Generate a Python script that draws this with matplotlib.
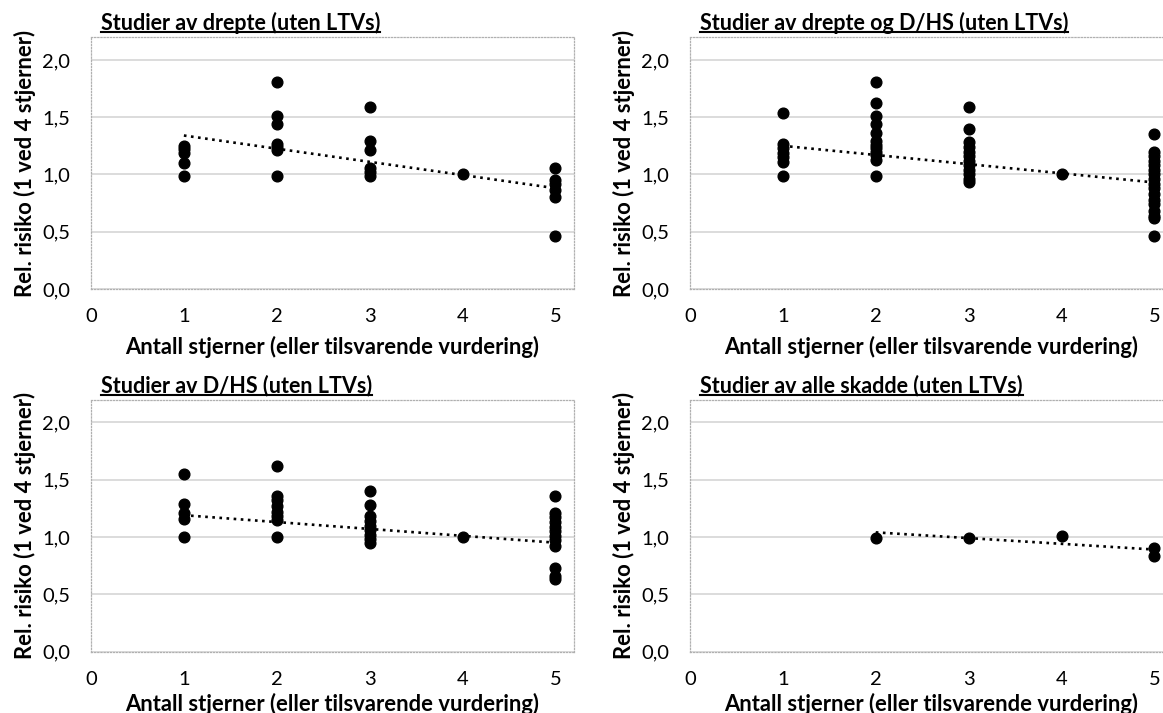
import matplotlib
matplotlib.use("Agg")
import matplotlib.pyplot as plt
from matplotlib.lines import Line2D
from matplotlib.ticker import FuncFormatter

plt.rcParams.update({
    "font.family": ["Lato", "DejaVu Sans"],
    "font.size": 14,
})

W, H = 1163, 713

# ---- data ----
titles = [
    "Studier av drepte (uten LTVs)",
    "Studier av drepte og D/HS (uten LTVs)",
    "Studier av D/HS (uten LTVs)",
    "Studier av alle skadde (uten LTVs)",
]

drepte_x = [1, 1, 1, 1, 1,
            2, 2, 2, 2, 2, 2, 2,
            3, 3, 3, 3, 3, 3,
            4,
            5, 5, 5, 5, 5, 5]
drepte_y = [1.25, 1.22, 1.19, 1.10, 0.99,
            1.81, 1.51, 1.44, 1.27, 1.24, 1.21, 0.99,
            1.59, 1.29, 1.21, 1.06, 1.02, 0.99,
            1.00,
            1.06, 0.95, 0.92, 0.86, 0.80, 0.46]

drepte_dhs_x = [1, 1, 1, 1, 1, 1, 1,
                2, 2, 2, 2, 2, 2, 2, 2, 2, 2, 2, 2,
                3, 3, 3, 3, 3, 3, 3, 3, 3, 3, 3, 3,
                4,
                5, 5, 5, 5, 5, 5, 5, 5, 5, 5, 5, 5, 5, 5, 5, 5, 5]
drepte_dhs_y = [1.54, 1.27, 1.23, 1.19, 1.15, 1.11, 0.99,
                1.81, 1.62, 1.51, 1.44, 1.36, 1.29, 1.26, 1.23, 1.20, 1.17, 1.13, 0.99,
                1.59, 1.40, 1.28, 1.24, 1.20, 1.16, 1.12, 1.08, 1.04, 1.00, 0.96, 0.93,
                1.00,
                1.35, 1.20, 1.16, 1.12, 1.08, 1.04, 1.00, 0.96, 0.92, 0.88, 0.83, 0.78,
                0.74, 0.68, 0.64, 0.62, 0.46]

dhs_x = [1, 1, 1, 1, 1,
         2, 2, 2, 2, 2, 2, 2, 2,
         3, 3, 3, 3, 3, 3, 3, 3, 3,
         4,
         5, 5, 5, 5, 5, 5, 5, 5, 5, 5, 5, 5]
dhs_y = [1.55, 1.29, 1.21, 1.16, 1.00,
         1.62, 1.36, 1.32, 1.27, 1.22, 1.18, 1.15, 1.00,
         1.40, 1.28, 1.18, 1.14, 1.10, 1.06, 1.02, 0.98, 0.95,
         1.00,
         1.36, 1.21, 1.17, 1.13, 1.09, 1.05, 1.01, 0.97, 0.92, 0.73, 0.66, 0.63]

skadde_x = [2, 3, 4, 5, 5]
skadde_y = [0.99, 0.99, 1.01, 0.90, 0.83]

# linear trend lines (start/end as drawn)
trend_x = [[1, 5], [1, 5], [1, 5], [2, 5]]
trend_y = [[1.34, 0.88], [1.25, 0.93], [1.19, 0.95], [1.04, 0.89]]

xs = [drepte_x, drepte_dhs_x, dhs_x, skadde_x]
ys = [drepte_y, drepte_dhs_y, dhs_y, skadde_y]

x_ticks = [0, 1, 2, 3, 4, 5]
y_ticks = [0.0, 0.5, 1.0, 1.5, 2.0]

# panel boxes in pixels: left, top, width, height, xlabel offset
boxes = [(91, 37, 483, 252, 58), (690, 37, 483, 252, 58),
         (91, 399.5, 483, 252, 52), (690, 399.5, 483, 252, 52)]

fig = plt.figure(figsize=(W / 100, H / 100), dpi=100)
fig.patch.set_facecolor("white")

title_texts = []
for i, (l, t, w, h, xo) in enumerate(boxes):
    ax = fig.add_axes([l / W, 1 - (t + h) / H, w / W, h / H])
    ax.set_xlim(0, 5.2)
    ax.set_ylim(0, 2.2)
    ax.set_xticks(x_ticks)
    ax.set_yticks(y_ticks)
    ax.yaxis.set_major_formatter(FuncFormatter(lambda v, p: f"{v:.1f}".replace(".", ",")))
    ax.tick_params(length=0, labelsize=14.5, colors="black")
    ax.tick_params(axis="y", pad=15)
    ax.tick_params(axis="x", pad=14)
    ax.grid(axis="y", color="#d9d9d9", linewidth=1.3)
    ax.set_axisbelow(True)
    for s in ax.spines.values():
        s.set_linestyle((0, (1, 1.5)))
        s.set_color("#b0b0b0")
        s.set_linewidth(0.9)

    ax.plot(trend_x[i], trend_y[i], color="black", linestyle=(0, (1, 1.7)),
            linewidth=1.9, zorder=2)
    ax.plot(xs[i], ys[i], "o", color="black", markersize=7.7, zorder=3)

    ax.set_xlabel("Antall stjerner (eller tilsvarende vurdering)", fontsize=15.8,
                  fontweight="bold", va="center")
    ax.xaxis.set_label_coords(0.5, -xo / h)
    ax.set_ylabel("Rel. risiko (1 ved 4 stjerner)", fontsize=15.8, fontweight="bold",
                  va="center")
    ax.yaxis.set_label_coords(-66 / w, 0.5)

    tt = fig.text((l + 10) / W, 1 - (t - 7.5) / H, titles[i], fontsize=15.5,
                  fontweight="bold", ha="left", va="baseline")
    title_texts.append((tt, t))

# underline the titles
fig.canvas.draw()
renderer = fig.canvas.get_renderer()
for tt, t in title_texts:
    bb = tt.get_window_extent(renderer)
    yu = 1 - (t - 4.6) / H
    fig.add_artist(Line2D([bb.x0 / W, bb.x1 / W], [yu, yu], color="black",
                          linewidth=1.5, transform=fig.transFigure))

fig.savefig("out.png", dpi=100, facecolor="white")
